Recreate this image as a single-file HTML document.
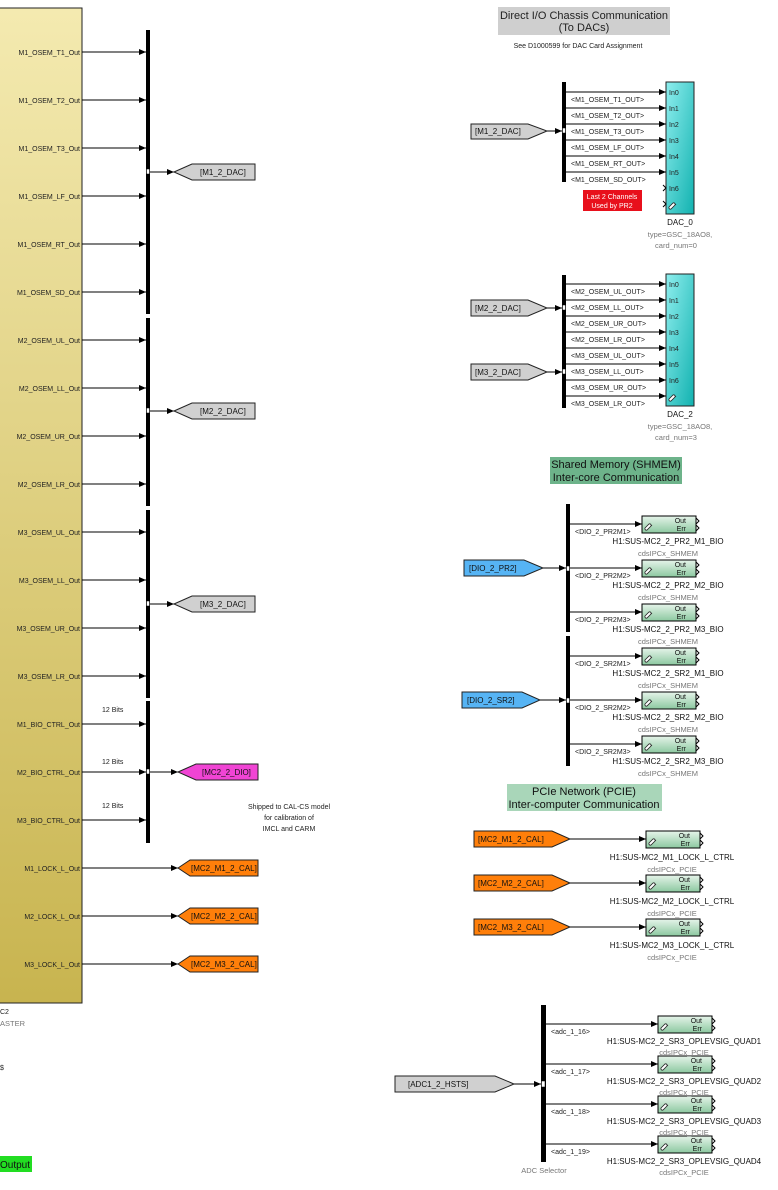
<!DOCTYPE html>
<html><head><meta charset="utf-8"><style>
html,body{margin:0;padding:0;background:#fff;}
svg{display:block;font-family:"Liberation Sans",Arial,sans-serif;}
.p{font-size:7px;fill:#222}
.s{font-size:7px;fill:#222}
.g{font-size:7.5px;fill:#777}
.n{font-size:8px;fill:#111}
.t{font-size:8.5px;fill:#222}
</style></head><body>
<svg width="778" height="1190" viewBox="0 0 778 1190" xmlns="http://www.w3.org/2000/svg">
<defs>
<marker id="a" markerWidth="7" markerHeight="6" refX="7" refY="3" orient="auto" markerUnits="userSpaceOnUse"><path d="M0,0 L7,3 L0,6 z" fill="#000"/></marker>
<linearGradient id="y" x1="0" y1="0" x2="0" y2="1"><stop offset="0" stop-color="#f4eab0"/><stop offset="1" stop-color="#c8b44f"/></linearGradient>
<linearGradient id="c" x1="0" y1="0" x2="1" y2="1"><stop offset="0" stop-color="#8eeeee"/><stop offset="1" stop-color="#12b2b0"/></linearGradient>
<linearGradient id="gr" x1="0" y1="0" x2="0" y2="1"><stop offset="0" stop-color="#e6f4ea"/><stop offset="1" stop-color="#8cc8a0"/></linearGradient>
<g id="lk"><path d="M1,8 l4,-4 a1.5,1.5 0 0 1 2,2 l-4,4 a1.5,1.5 0 0 1 -2,-2 z M4,9 l4,-4" fill="#fff" stroke="#222" stroke-width="0.8"/></g>
<g id="ipc"><rect x="0" y="0" width="54" height="17" fill="url(#gr)" stroke="#000" stroke-width="1"/><text x="44" y="7" font-size="7" text-anchor="end" fill="#111">Out</text><text x="44" y="15" font-size="7" text-anchor="end" fill="#111">Err</text><path d="M54,2 l3,3 l-3,3 M54,9 l3,3 l-3,3" fill="none" stroke="#000"/><use href="#lk" x="2" y="4"/></g>
</defs>

<rect x="-2" y="8" width="84" height="995" fill="url(#y)" stroke="#222" stroke-width="1"/>
<g class="p" text-anchor="end">
<text x="80" y="55">M1_OSEM_T1_Out</text><text x="80" y="103">M1_OSEM_T2_Out</text><text x="80" y="151">M1_OSEM_T3_Out</text><text x="80" y="199">M1_OSEM_LF_Out</text><text x="80" y="247">M1_OSEM_RT_Out</text><text x="80" y="295">M1_OSEM_SD_Out</text>
<text x="80" y="343">M2_OSEM_UL_Out</text><text x="80" y="391">M2_OSEM_LL_Out</text><text x="80" y="439">M2_OSEM_UR_Out</text><text x="80" y="487">M2_OSEM_LR_Out</text>
<text x="80" y="535">M3_OSEM_UL_Out</text><text x="80" y="583">M3_OSEM_LL_Out</text><text x="80" y="631">M3_OSEM_UR_Out</text><text x="80" y="679">M3_OSEM_LR_Out</text>
<text x="80" y="727">M1_BIO_CTRL_Out</text><text x="80" y="775">M2_BIO_CTRL_Out</text><text x="80" y="823">M3_BIO_CTRL_Out</text>
<text x="80" y="871">M1_LOCK_L_Out</text><text x="80" y="919">M2_LOCK_L_Out</text><text x="80" y="967">M3_LOCK_L_Out</text>
</g>
<g stroke="#000" stroke-width="1" marker-end="url(#a)">
<line x1="82" y1="52" x2="146" y2="52"/><line x1="82" y1="100" x2="146" y2="100"/><line x1="82" y1="148" x2="146" y2="148"/><line x1="82" y1="196" x2="146" y2="196"/><line x1="82" y1="244" x2="146" y2="244"/><line x1="82" y1="292" x2="146" y2="292"/>
<line x1="82" y1="340" x2="146" y2="340"/><line x1="82" y1="388" x2="146" y2="388"/><line x1="82" y1="436" x2="146" y2="436"/><line x1="82" y1="484" x2="146" y2="484"/>
<line x1="82" y1="532" x2="146" y2="532"/><line x1="82" y1="580" x2="146" y2="580"/><line x1="82" y1="628" x2="146" y2="628"/><line x1="82" y1="676" x2="146" y2="676"/>
<line x1="82" y1="724" x2="146" y2="724"/><line x1="82" y1="772" x2="146" y2="772"/><line x1="82" y1="820" x2="146" y2="820"/>
<line x1="82" y1="868" x2="178" y2="868"/><line x1="82" y1="916" x2="178" y2="916"/><line x1="82" y1="964" x2="178" y2="964"/>
<line x1="150" y1="172" x2="174" y2="172"/><line x1="150" y1="411" x2="174" y2="411"/><line x1="150" y1="604" x2="174" y2="604"/><line x1="150" y1="772" x2="178" y2="772"/>
</g>
<g fill="#000"><rect x="146" y="30" width="4" height="284"/><rect x="146" y="318" width="4" height="188"/><rect x="146" y="510" width="4" height="188"/><rect x="146" y="701" width="4" height="142"/></g>
<g fill="#fff" stroke="#000" stroke-width="0.5"><rect x="146.5" y="169" width="3" height="5"/><rect x="146.5" y="408" width="3" height="5"/><rect x="146.5" y="601" width="3" height="5"/><rect x="146.5" y="769" width="3" height="5"/></g>
<g class="s"><text x="102" y="712">12 Bits</text><text x="102" y="764">12 Bits</text><text x="102" y="808">12 Bits</text></g>
<g stroke="#222" stroke-width="1">
<path d="M174,172 L192,164 L255,164 L255,180 L192,180 Z" fill="#d0d0d0"/>
<path d="M174,411 L192,403 L255,403 L255,419 L192,419 Z" fill="#d0d0d0"/>
<path d="M174,604 L192,596 L255,596 L255,612 L192,612 Z" fill="#d0d0d0"/>
<path d="M178,772 L196,764 L258,764 L258,780 L196,780 Z" fill="#f044d4"/>
<path d="M178,868 L190,860 L258,860 L258,876 L190,876 Z" fill="#ff7f0a"/>
<path d="M178,916 L190,908 L258,908 L258,924 L190,924 Z" fill="#ff7f0a"/>
<path d="M178,964 L190,956 L258,956 L258,972 L190,972 Z" fill="#ff7f0a"/>
</g>
<g class="n"><text x="200" y="175">[M1_2_DAC]</text><text x="200" y="414">[M2_2_DAC]</text><text x="200" y="607">[M3_2_DAC]</text><text x="202" y="775">[MC2_2_DIO]</text><text x="191" y="871">[MC2_M1_2_CAL]</text><text x="191" y="919">[MC2_M2_2_CAL]</text><text x="191" y="967">[MC2_M3_2_CAL]</text></g>
<g class="s" text-anchor="middle"><text x="289" y="809">Shipped to CAL-CS model</text><text x="289" y="820">for calibration of</text><text x="289" y="831">IMCL and CARM</text></g>
<text x="0" y="1014" class="s">C2</text><text x="0" y="1026" class="g">ASTER</text><text x="0" y="1070" class="s">$</text>
<rect x="0" y="1156" width="32" height="16" fill="#22dd22"/><text x="0" y="1168" font-size="10" fill="#111">Output</text>

<rect x="498" y="7" width="172" height="28" fill="#cfcfcf"/>
<text x="584" y="19" font-size="11" text-anchor="middle" fill="#222">Direct I/O Chassis Communication</text>
<text x="584" y="31" font-size="11" text-anchor="middle" fill="#222">(To DACs)</text>
<text x="578" y="48" font-size="7" text-anchor="middle" fill="#222">See D1000599 for DAC Card Assignment</text>

<path d="M471,124 L528,124 L547,131 L528,139 L471,139 Z" fill="#d0d0d0" stroke="#222"/><text x="475" y="134" class="n">[M1_2_DAC]</text>
<line x1="547" y1="131" x2="562" y2="131" stroke="#000" marker-end="url(#a)"/>
<rect x="562" y="82" width="4" height="100" fill="#000"/><rect x="562.5" y="128" width="3" height="5" fill="#fff" stroke="#000" stroke-width="0.5"/>
<rect x="666" y="82" width="28" height="132" fill="url(#c)" stroke="#222"/>
<g stroke="#000" marker-end="url(#a)"><line x1="566" y1="92" x2="666" y2="92"/><line x1="566" y1="108" x2="666" y2="108"/><line x1="566" y1="124" x2="666" y2="124"/><line x1="566" y1="140" x2="666" y2="140"/><line x1="566" y1="156" x2="666" y2="156"/><line x1="566" y1="172" x2="666" y2="172"/></g>
<g class="s"><text x="571" y="102">&lt;M1_OSEM_T1_OUT&gt;</text><text x="571" y="118">&lt;M1_OSEM_T2_OUT&gt;</text><text x="571" y="134">&lt;M1_OSEM_T3_OUT&gt;</text><text x="571" y="150">&lt;M1_OSEM_LF_OUT&gt;</text><text x="571" y="166">&lt;M1_OSEM_RT_OUT&gt;</text><text x="571" y="182">&lt;M1_OSEM_SD_OUT&gt;</text></g>
<g class="s"><text x="669" y="95">In0</text><text x="669" y="111">In1</text><text x="669" y="127">In2</text><text x="669" y="143">In3</text><text x="669" y="159">In4</text><text x="669" y="175">In5</text><text x="669" y="191">In6</text></g>
<use href="#lk" x="668" y="199"/>
<path d="M663,185 l3,3 l-3,3 M663,201 l3,3 l-3,3" stroke="#000" fill="none"/>
<rect x="583" y="190" width="59" height="21" fill="#e8101c"/>
<text x="612" y="199" font-size="7" fill="#fff" text-anchor="middle">Last 2 Channels</text><text x="612" y="208" font-size="7" fill="#fff" text-anchor="middle">Used by PR2</text>
<text x="680" y="225" class="n" text-anchor="middle">DAC_0</text><text x="680" y="237" class="g" text-anchor="middle">type=GSC_18AO8,</text><text x="676" y="248" class="g" text-anchor="middle">card_num=0</text>

<path d="M471,300 L528,300 L547,308 L528,316 L471,316 Z" fill="#d0d0d0" stroke="#222"/><text x="475" y="311" class="n">[M2_2_DAC]</text>
<path d="M471,364 L528,364 L547,372 L528,380 L471,380 Z" fill="#d0d0d0" stroke="#222"/><text x="475" y="375" class="n">[M3_2_DAC]</text>
<line x1="547" y1="308" x2="562" y2="308" stroke="#000" marker-end="url(#a)"/><line x1="547" y1="372" x2="562" y2="372" stroke="#000" marker-end="url(#a)"/>
<rect x="562" y="275" width="4" height="133" fill="#000"/><rect x="562.5" y="305" width="3" height="5" fill="#fff" stroke="#000" stroke-width="0.5"/><rect x="562.5" y="369" width="3" height="5" fill="#fff" stroke="#000" stroke-width="0.5"/>
<rect x="666" y="274" width="28" height="132" fill="url(#c)" stroke="#222"/>
<g stroke="#000" marker-end="url(#a)"><line x1="566" y1="284" x2="666" y2="284"/><line x1="566" y1="300" x2="666" y2="300"/><line x1="566" y1="316" x2="666" y2="316"/><line x1="566" y1="332" x2="666" y2="332"/><line x1="566" y1="348" x2="666" y2="348"/><line x1="566" y1="364" x2="666" y2="364"/><line x1="566" y1="380" x2="666" y2="380"/><line x1="566" y1="396" x2="666" y2="396"/></g>
<g class="s"><text x="571" y="294">&lt;M2_OSEM_UL_OUT&gt;</text><text x="571" y="310">&lt;M2_OSEM_LL_OUT&gt;</text><text x="571" y="326">&lt;M2_OSEM_UR_OUT&gt;</text><text x="571" y="342">&lt;M2_OSEM_LR_OUT&gt;</text><text x="571" y="358">&lt;M3_OSEM_UL_OUT&gt;</text><text x="571" y="374">&lt;M3_OSEM_LL_OUT&gt;</text><text x="571" y="390">&lt;M3_OSEM_UR_OUT&gt;</text><text x="571" y="406">&lt;M3_OSEM_LR_OUT&gt;</text></g>
<g class="s"><text x="669" y="287">In0</text><text x="669" y="303">In1</text><text x="669" y="319">In2</text><text x="669" y="335">In3</text><text x="669" y="351">In4</text><text x="669" y="367">In5</text><text x="669" y="383">In6</text></g>
<use href="#lk" x="668" y="391"/>
<text x="680" y="417" class="n" text-anchor="middle">DAC_2</text><text x="680" y="429" class="g" text-anchor="middle">type=GSC_18AO8,</text><text x="676" y="440" class="g" text-anchor="middle">card_num=3</text>

<rect x="550" y="457" width="132" height="27" fill="#6db38a"/>
<text x="616" y="468" font-size="11" text-anchor="middle" fill="#111">Shared Memory (SHMEM)</text><text x="616" y="481" font-size="11" text-anchor="middle" fill="#111">Inter-core Communication</text>
<path d="M464,560 L524,560 L543,568 L524,576 L464,576 Z" fill="#56b4f4" stroke="#222"/><text x="469" y="571" class="n">[DIO_2_PR2]</text>
<path d="M462,692 L522,692 L540,700 L522,708 L462,708 Z" fill="#56b4f4" stroke="#222"/><text x="467" y="703" class="n">[DIO_2_SR2]</text>
<line x1="543" y1="568" x2="566" y2="568" stroke="#000" marker-end="url(#a)"/><line x1="540" y1="700" x2="566" y2="700" stroke="#000" marker-end="url(#a)"/>
<rect x="566" y="504" width="4" height="128" fill="#000"/><rect x="566" y="636" width="4" height="130" fill="#000"/>
<rect x="566.5" y="566" width="3" height="5" fill="#fff" stroke="#000" stroke-width="0.5"/><rect x="566.5" y="698" width="3" height="5" fill="#fff" stroke="#000" stroke-width="0.5"/>
<g stroke="#000" marker-end="url(#a)"><line x1="570" y1="524" x2="642" y2="524"/><line x1="570" y1="568" x2="642" y2="568"/><line x1="570" y1="612" x2="642" y2="612"/><line x1="570" y1="656" x2="642" y2="656"/><line x1="570" y1="700" x2="642" y2="700"/><line x1="570" y1="744" x2="642" y2="744"/></g>
<use href="#ipc" x="642" y="516"/><use href="#ipc" x="642" y="560"/><use href="#ipc" x="642" y="604"/><use href="#ipc" x="642" y="648"/><use href="#ipc" x="642" y="692"/><use href="#ipc" x="642" y="736"/>
<g class="s"><text x="575" y="534">&lt;DIO_2_PR2M1&gt;</text><text x="575" y="578">&lt;DIO_2_PR2M2&gt;</text><text x="575" y="622">&lt;DIO_2_PR2M3&gt;</text><text x="575" y="666">&lt;DIO_2_SR2M1&gt;</text><text x="575" y="710">&lt;DIO_2_SR2M2&gt;</text><text x="575" y="754">&lt;DIO_2_SR2M3&gt;</text></g>
<g class="n" text-anchor="middle"><text x="668" y="544">H1:SUS-MC2_2_PR2_M1_BIO</text><text x="668" y="588">H1:SUS-MC2_2_PR2_M2_BIO</text><text x="668" y="632">H1:SUS-MC2_2_PR2_M3_BIO</text><text x="668" y="676">H1:SUS-MC2_2_SR2_M1_BIO</text><text x="668" y="720">H1:SUS-MC2_2_SR2_M2_BIO</text><text x="668" y="764">H1:SUS-MC2_2_SR2_M3_BIO</text></g>
<g class="g" text-anchor="middle"><text x="668" y="556">cdsIPCx_SHMEM</text><text x="668" y="600">cdsIPCx_SHMEM</text><text x="668" y="644">cdsIPCx_SHMEM</text><text x="668" y="688">cdsIPCx_SHMEM</text><text x="668" y="732">cdsIPCx_SHMEM</text><text x="668" y="776">cdsIPCx_SHMEM</text></g>

<rect x="507" y="784" width="155" height="27" fill="#a9d6b9"/>
<text x="584" y="795" font-size="11" text-anchor="middle" fill="#111">PCIe Network (PCIE)</text><text x="584" y="808" font-size="11" text-anchor="middle" fill="#111">Inter-computer Communication</text>
<path d="M474,831 L552,831 L570,839 L552,847 L474,847 Z" fill="#ff7f0a" stroke="#222"/><text x="478" y="842" class="n">[MC2_M1_2_CAL]</text>
<path d="M474,875 L552,875 L570,883 L552,891 L474,891 Z" fill="#ff7f0a" stroke="#222"/><text x="478" y="886" class="n">[MC2_M2_2_CAL]</text>
<path d="M474,919 L552,919 L570,927 L552,935 L474,935 Z" fill="#ff7f0a" stroke="#222"/><text x="478" y="930" class="n">[MC2_M3_2_CAL]</text>
<g stroke="#000" marker-end="url(#a)"><line x1="570" y1="839" x2="646" y2="839"/><line x1="570" y1="883" x2="646" y2="883"/><line x1="570" y1="927" x2="646" y2="927"/></g>
<use href="#ipc" x="646" y="831"/><use href="#ipc" x="646" y="875"/><use href="#ipc" x="646" y="919"/>
<g class="n" text-anchor="middle"><text x="672" y="860">H1:SUS-MC2_M1_LOCK_L_CTRL</text><text x="672" y="904">H1:SUS-MC2_M2_LOCK_L_CTRL</text><text x="672" y="948">H1:SUS-MC2_M3_LOCK_L_CTRL</text></g>
<g class="g" text-anchor="middle"><text x="672" y="872">cdsIPCx_PCIE</text><text x="672" y="916">cdsIPCx_PCIE</text><text x="672" y="960">cdsIPCx_PCIE</text></g>

<path d="M395,1076 L495,1076 L514,1084 L495,1092 L395,1092 Z" fill="#d0d0d0" stroke="#222"/><text x="408" y="1087" class="n">[ADC1_2_HSTS]</text>
<line x1="514" y1="1084" x2="541" y2="1084" stroke="#000" marker-end="url(#a)"/>
<rect x="541" y="1005" width="5" height="157" fill="#000"/><rect x="541.5" y="1081" width="3.5" height="6" fill="#fff" stroke="#000" stroke-width="0.5"/>
<g stroke="#000" marker-end="url(#a)"><line x1="546" y1="1024" x2="658" y2="1024"/><line x1="546" y1="1064" x2="658" y2="1064"/><line x1="546" y1="1104" x2="658" y2="1104"/><line x1="546" y1="1144" x2="658" y2="1144"/></g>
<use href="#ipc" x="658" y="1016"/><use href="#ipc" x="658" y="1056"/><use href="#ipc" x="658" y="1096"/><use href="#ipc" x="658" y="1136"/>
<g class="s"><text x="551" y="1034">&lt;adc_1_16&gt;</text><text x="551" y="1074">&lt;adc_1_17&gt;</text><text x="551" y="1114">&lt;adc_1_18&gt;</text><text x="551" y="1154">&lt;adc_1_19&gt;</text></g>
<g class="g" text-anchor="middle"><text x="684" y="1055">cdsIPCx_PCIE</text><text x="684" y="1095">cdsIPCx_PCIE</text><text x="684" y="1135">cdsIPCx_PCIE</text><text x="684" y="1175">cdsIPCx_PCIE</text></g>
<g class="n" text-anchor="middle"><text x="684" y="1044">H1:SUS-MC2_2_SR3_OPLEVSIG_QUAD1</text><text x="684" y="1084">H1:SUS-MC2_2_SR3_OPLEVSIG_QUAD2</text><text x="684" y="1124">H1:SUS-MC2_2_SR3_OPLEVSIG_QUAD3</text><text x="684" y="1164">H1:SUS-MC2_2_SR3_OPLEVSIG_QUAD4</text></g>
<text x="544" y="1173" class="g" text-anchor="middle">ADC Selector</text>
</svg>
</body></html>
